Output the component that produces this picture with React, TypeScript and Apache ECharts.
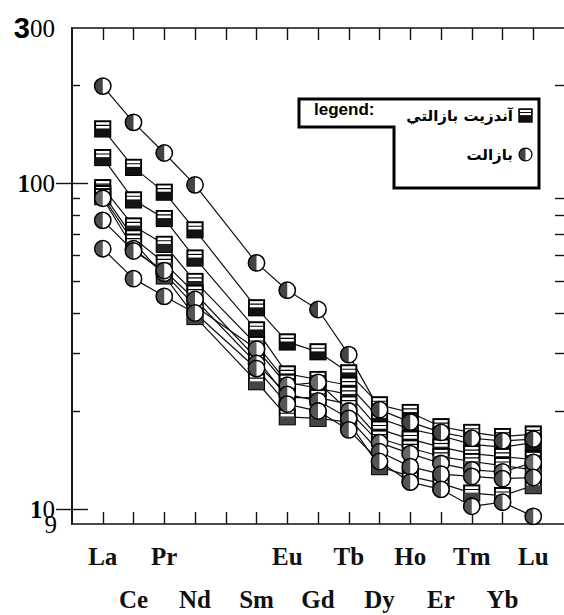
import React, { useEffect, useRef } from "react";
import * as echarts from "echarts";

// Rare earth elements (Pm kept as a gap position, no data)
const ELEMENTS = ["La", "Ce", "Pr", "Nd", "Pm", "Sm", "Eu", "Gd", "Tb", "Dy", "Ho", "Er", "Tm", "Yb", "Lu"];
const TOP_ROW = ["La", "Pr", "Eu", "Tb", "Ho", "Tm", "Lu"];
const BOTTOM_ROW = ["Ce", "Nd", "Sm", "Gd", "Dy", "Er", "Yb"];

const NAME_ANDESITE = "آندزيت بازالتي";
const NAME_BASALT = "بازالت";

// Basaltic andesite (squares)
const SA1 = [147, 112, 94, 72, null, 41.5, 32.6, 30.4, 26.2, 20.9, 19.8, 17.9, 17.2, 16.7, 17.0];
const SA2 = [120, 89, 78, 59, null, 35.5, 26, 25, 24, 19.0, 17.6, 16.8, 15.8, 15.5, 16.0];
const SA3 = [97, 74, 65, 50, null, 32, 24.5, 23.5, 22.5, 17.6, 16.4, 15.5, 14.8, 14.5, 14.2];
const SA4 = [93, 68, 57, 46, null, 29, 22, 22, 21, 16.5, 15.4, 14.5, 14.0, 13.6, 13.2];
const SA5 = [91, 66, 52, 39, null, 24.6, 19.2, 19, 18.5, 13.5, 12.6, 12.0, 11.2, 11.0, 11.8];

// Basalt (circles)
const B1 = [199, 154, 124, 99, null, 57, 47, 41, 29.8, 20.2, 18.5, 17.2, 16.5, 16.2, 16.4];
const B2 = [90, 63, 53, 42, null, 31, 24, 24.5, 20, 16.0, 14.8, 13.8, 13.2, 13.0, 13.9];
const B3 = [77, 62, 54, 44, null, 28, 22.5, 21.5, 19, 15.0, 13.5, 12.8, 12.6, 12.4, 12.5];
const B4 = [63, 51, 45, 40, null, 27, 21, 20, 17.5, 14.0, 12.1, 11.5, 10.2, 10.5, 9.5];

const ANDESITE_SERIES = [SA1, SA2, SA3, SA4, SA5];
const BASALT_SERIES = [B1, B2, B3, B4];

const Y_LABELS = [10, 100, 300];
const Y_LABELS_LOW = [9];
const Y_MAJOR = [10, 100];
const Y_MINOR = [20, 30, 40, 50, 60, 70, 80, 90, 200];

function svgUrl(svg: string) {
  return "image://data:image/svg+xml;charset=utf-8," + encodeURIComponent(svg);
}

function squareIcon(dark: string) {
  return svgUrl(
    `<svg xmlns='http://www.w3.org/2000/svg' width='20' height='20' viewBox='0 0 20 20'>` +
      `<rect x='1.5' y='1.5' width='17' height='17' fill='#fff' stroke='#000' stroke-width='2.2'/>` +
      `<line x1='1.5' y1='6' x2='18.5' y2='6' stroke='#000' stroke-width='1.3'/>` +
      `<rect x='1.5' y='9.5' width='17' height='9' fill='${dark}'/>` +
      `</svg>`
  );
}

function circleIcon(dark: string) {
  return svgUrl(
    `<svg xmlns='http://www.w3.org/2000/svg' width='20' height='20' viewBox='0 0 20 20'>` +
      `<circle cx='10' cy='10' r='8.6' fill='#fff'/>` +
      `<path d='M10 1.4 A8.6 8.6 0 0 0 10 18.6 Z' fill='${dark}'/>` +
      `<circle cx='10' cy='10' r='8.6' fill='none' stroke='#000' stroke-width='1.6'/>` +
      `</svg>`
  );
}

const SQUARE_DARK = ["#111", "#151515", "#222", "#555", "#444"];
const CIRCLE_DARK = ["#444", "#666", "#505050", "#555"];

function toPoints(arr: (number | null)[]) {
  const pts: [number, number][] = [];
  arr.forEach((v, i) => {
    if (v != null) pts.push([i + 1, v]);
  });
  return pts;
}

const ELEMENT_POS = ELEMENTS.map((_, i) => i + 1);
const TOP_POS = TOP_ROW.map((e) => ELEMENTS.indexOf(e) + 1);
const BOTTOM_POS = BOTTOM_ROW.map((e) => ELEMENTS.indexOf(e) + 1);

const xLabelStyle = {
  fontFamily: "Liberation Serif",
  fontWeight: "bold" as const,
  fontSize: 25,
  color: "#111",
};

const yRich = {
  a: { fontFamily: "Liberation Sans", fontWeight: "bold", fontSize: 29, color: "#000" },
  b: { fontFamily: "Liberation Serif", fontSize: 25, color: "#000" },
  c: { fontFamily: "Liberation Serif", fontWeight: "bold", fontSize: 25, color: "#000" },
};

function yFormatter(v: number) {
  const r = Math.round(v);
  if (r === 300) return "{a|3}{b|00}";
  if (r === 100) return "{c|1}{b|00}";
  if (r === 10) return "{c|1}{b|0}";
  if (r === 9) return "{b|9}";
  return "";
}

function buildOption() {
  const series: any[] = [];
  ANDESITE_SERIES.forEach((arr, i) => {
    series.push({
      type: "line",
      name: NAME_ANDESITE,
      xAxisIndex: 0,
      yAxisIndex: 0,
      data: toPoints(arr),
      symbol: squareIcon(SQUARE_DARK[i]),
      symbolSize: 18,
      lineStyle: { color: "#111", width: 1.2 },
      itemStyle: { color: "#111" },
      z: 3,
    });
  });
  BASALT_SERIES.forEach((arr, i) => {
    series.push({
      type: "line",
      name: NAME_BASALT,
      xAxisIndex: 0,
      yAxisIndex: 0,
      data: toPoints(arr),
      symbol: circleIcon(CIRCLE_DARK[i]),
      symbolSize: 19,
      lineStyle: { color: "#111", width: 1.2 },
      itemStyle: { color: "#111" },
      z: 3,
    });
  });

  const nameAt = (v: number) => ELEMENTS[Math.round(v) - 1] || "";
  const axisLine = { show: true, lineStyle: { color: "#111", width: 1.6 } };
  const tickStyle = { color: "#111", width: 1.4 };

  return {
    animation: false,
    backgroundColor: "#fff",
    grid: { left: 72, right: -2, top: 28, bottom: 91, containLabel: false },
    legend: {
      orient: "vertical",
      right: 31,
      top: 108,
      padding: 0,
      align: "right",
      itemWidth: 15,
      itemHeight: 15,
      itemGap: 24,
      selectedMode: false,
      textStyle: { fontFamily: "DejaVu Sans", fontWeight: "bold", fontSize: 15, color: "#000" },
      data: [
        { name: NAME_ANDESITE, icon: squareIcon("#111") },
        { name: NAME_BASALT, icon: circleIcon("#444") },
      ],
    },
    graphic: [
      {
        type: "polygon",
        shape: {
          points: [
            [299, 99],
            [539, 99],
            [539, 188],
            [394, 188],
            [394, 127],
            [299, 127],
          ],
        },
        style: { fill: "none", stroke: "#000", lineWidth: 3 },
        z: 10,
      },
      {
        type: "text",
        x: 314,
        y: 101,
        style: { text: "legend:", fontFamily: "Liberation Sans", fontSize: 17, fontWeight: "bold", fill: "#000" },
        z: 10,
      },
    ],
    xAxis: [
      {
        type: "value",
        min: 0,
        max: 16,
        interval: 1,
        position: "bottom",
        axisLine,
        axisTick: { show: true, inside: true, length: 12, lineStyle: tickStyle, customValues: ELEMENT_POS },
        axisLabel: { ...xLabelStyle, margin: 20, customValues: TOP_POS, formatter: (v: number) => nameAt(v) },
        splitLine: { show: false },
      },
      {
        type: "value",
        min: 0,
        max: 16,
        interval: 1,
        position: "bottom",
        axisLine: { show: false },
        axisTick: { show: false },
        axisLabel: { ...xLabelStyle, margin: 63, customValues: BOTTOM_POS, formatter: (v: number) => nameAt(v) },
        splitLine: { show: false },
      },
      {
        type: "value",
        min: 0,
        max: 16,
        interval: 1,
        position: "top",
        axisLine,
        axisTick: { show: true, inside: true, length: 12, lineStyle: tickStyle, customValues: ELEMENT_POS },
        axisLabel: { show: false },
        splitLine: { show: false },
      },
    ],
    yAxis: [
      {
        type: "log",
        logBase: 10,
        min: 9,
        max: 300,
        position: "left",
        axisLine,
        axisTick: { show: true, inside: true, length: 16, lineStyle: tickStyle, customValues: Y_MAJOR },
        axisLabel: {
          margin: 17,
          hideOverlap: false,
          showMinLabel: true,
          showMaxLabel: true,
          customValues: Y_LABELS,
          formatter: yFormatter,
          rich: yRich,
        },
        splitLine: { show: false },
      },
      {
        type: "log",
        logBase: 10,
        min: 9,
        max: 300,
        position: "left",
        axisLine: { show: false },
        axisTick: { show: true, inside: true, length: 8, lineStyle: tickStyle, customValues: Y_MINOR },
        axisLabel: {
          margin: 15,
          showMinLabel: true,
          customValues: Y_LABELS_LOW,
          formatter: yFormatter,
          rich: yRich,
        },
        splitLine: { show: false },
      },
      {
        type: "log",
        logBase: 10,
        min: 9,
        max: 300,
        position: "right",
        axisLine,
        axisTick: { show: true, inside: true, length: 16, lineStyle: tickStyle, customValues: Y_MAJOR },
        axisLabel: { show: false },
        splitLine: { show: false },
      },
      {
        type: "log",
        logBase: 10,
        min: 9,
        max: 300,
        position: "right",
        axisLine: { show: false },
        axisTick: { show: true, inside: true, length: 9, lineStyle: tickStyle, customValues: Y_MINOR },
        axisLabel: { show: false },
        splitLine: { show: false },
      },
    ],
    series,
  };
}

export default function App() {
  const ref = useRef<HTMLDivElement>(null);
  useEffect(() => {
    if (!ref.current) return;
    const chart = echarts.init(ref.current, null, { renderer: "svg" });
    chart.setOption(buildOption() as any);
    return () => chart.dispose();
  }, []);
  return (
    <div
      ref={ref}
      style={{ position: "absolute", left: 0, top: 0, width: 564, height: 615, background: "#fff" }}
    />
  );
}
